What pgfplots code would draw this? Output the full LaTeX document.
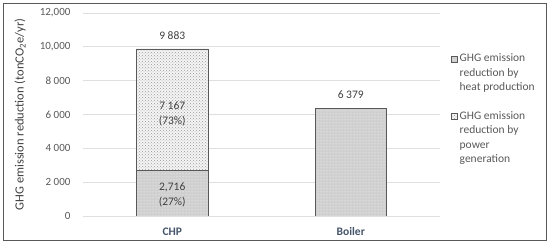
\documentclass[border=0pt]{standalone}
\usepackage{pgfplots}
\pgfplotsset{compat=1.18}
\usepackage{fontspec}
\setmainfont{Carlito}
\usetikzlibrary{patterns,calc}
\definecolor{tickgray}{HTML}{595959}
\definecolor{valgray}{HTML}{404040}
\definecolor{catcol}{HTML}{44546A}
\begin{document}
\begin{tikzpicture}
\begin{axis}[
  name=ax,
  scale only axis, width=357pt, height=203pt,
  ybar stacked, bar width=0.4,
  xmin=-0.5, xmax=1.5, ymin=0, ymax=12000,
  xtick={0,1}, xticklabels={CHP,Boiler},
  ytick={0,2000,4000,6000,8000,10000,12000},
  yticklabels={0,2 000,4 000,6 000,8 000,{10,000},{12,000}},
  scaled y ticks=false,
  major tick length=0,
  axis line style={draw=none},
  ymajorgrids, grid style={gray!25, line width=0.8pt},
  yticklabel style={font=\fontsize{11}{13}\selectfont, text=tickgray, xshift=-9pt},
  xticklabel style={font=\fontsize{11.5}{13}\selectfont\bfseries, text=catcol, yshift=-8pt},
  /pgf/number format/assume math mode=true,
  ylabel={GHG emission reduction (tonCO\textsubscript{2}e/yr)},
  every axis y label/.style={at={(axis description cs:-0.176,0.5)}, rotate=90, anchor=center,
    font=\fontsize{12.5}{14}\selectfont, text=valgray},
  legend style={draw=none, fill=none, at={(axis description cs:1,0.82)}, anchor=north west, xshift=8pt,
    cells={align=left, anchor=west, font=\fontsize{11.5}{14.5}\selectfont, text=tickgray}, row sep=15pt},
  legend cell align=left,
]
\addplot[draw=gray!70!black, line width=0.6pt, fill=gray!38, postaction={pattern=dots, pattern color=white},
  legend image code/.code={\draw[draw=gray!70!black, line width=0.5pt, fill=gray!38] (0pt,11pt) rectangle (6pt,17pt);}]
  coordinates {(0,2716) (1,6379)};
\addlegendentry{GHG emission\\reduction by\\heat production}
\addplot[draw=gray!70!black, line width=0.6pt, fill=gray!8, postaction={pattern=crosshatch dots, pattern color=gray!80},
  legend image code/.code={\draw[draw=gray!70!black, line width=0.5pt, fill=gray!8] (0pt,18pt) rectangle (6pt,24pt);}]
  coordinates {(0,7167) (1,0)};
\addlegendentry{GHG emission\\reduction by\\power\\generation}
\coordinate (t1) at (axis cs:0,10640);
\coordinate (t2) at (axis cs:1,7150);
\coordinate (t3) at (axis cs:0,6030);
\coordinate (t4) at (axis cs:0,1240);
\end{axis}
\node[font=\fontsize{11.5}{13}\selectfont, text=valgray] at (t1) {9 883};
\node[font=\fontsize{11.5}{13}\selectfont, text=valgray] at (t2) {6 379};
\node[font=\fontsize{11.5}{15}\selectfont, text=valgray, align=center] at (t3) {7 167\\(73\%)};
\node[font=\fontsize{11.5}{15}\selectfont, text=valgray, align=center] at (t4) {2,716\\(27\%)};
\pgfresetboundingbox
\useasboundingbox ($(ax.south west)+(-83pt,-30pt)$) rectangle ++(550pt,246pt);
\draw[line width=1pt, color=black!65] ($(ax.south west)+(-79pt,-25pt)$) rectangle ++(542pt,237pt);
\end{tikzpicture}
\end{document}
